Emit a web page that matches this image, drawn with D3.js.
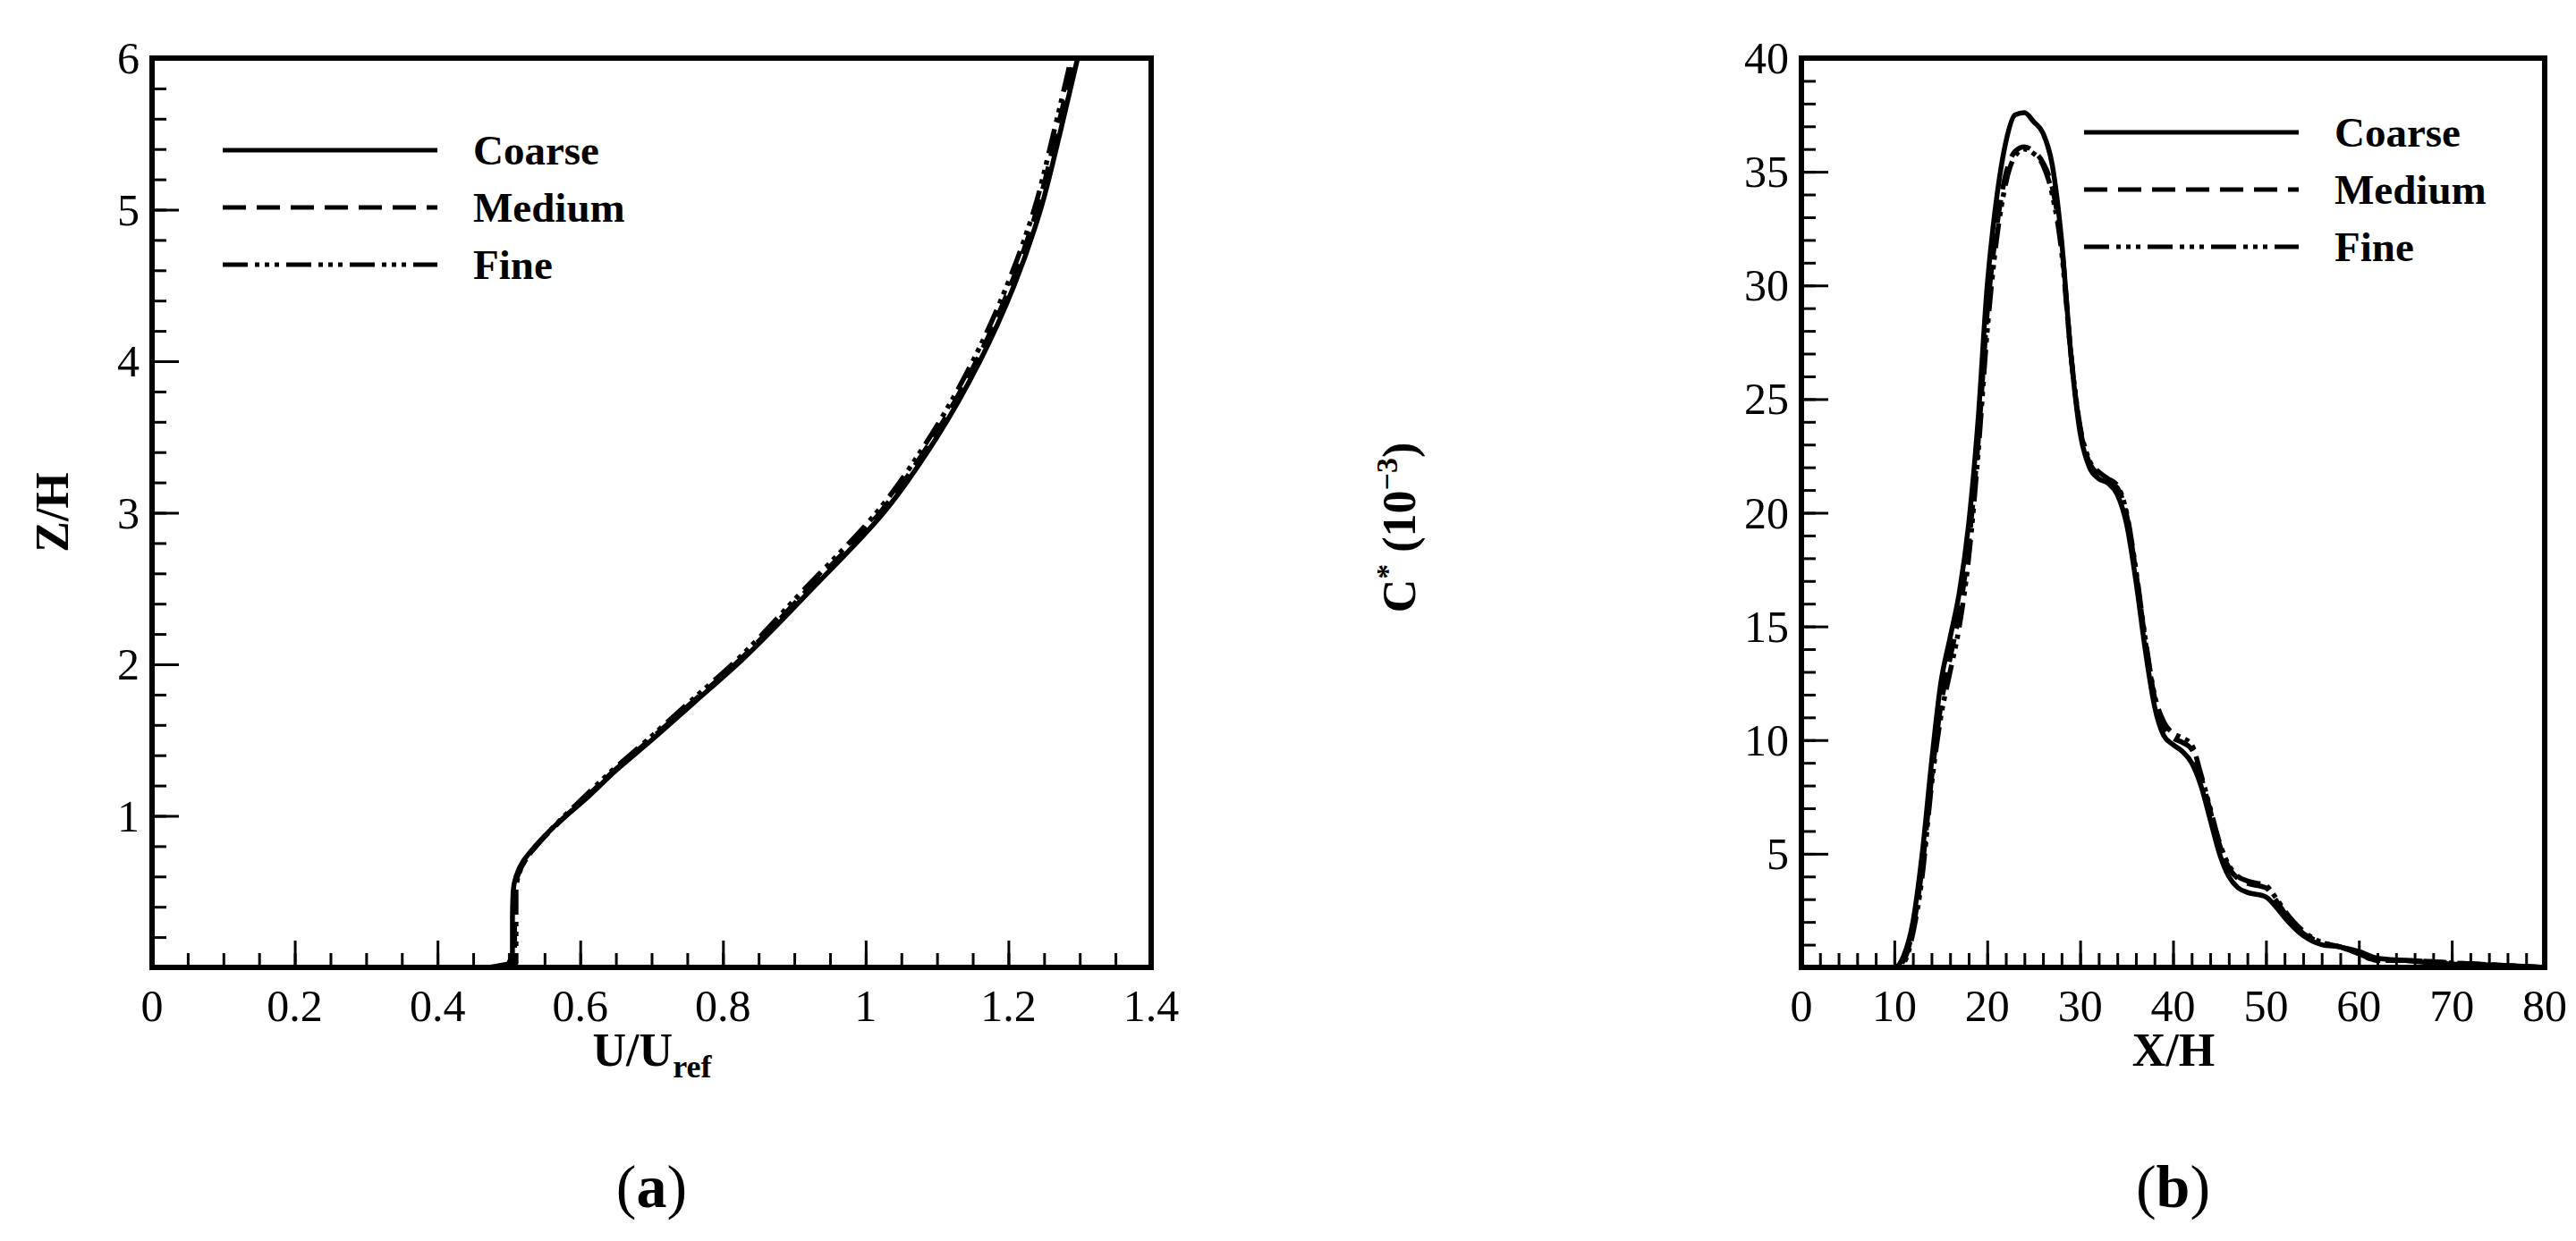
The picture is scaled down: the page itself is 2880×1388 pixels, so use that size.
<!DOCTYPE html>
<html>
<head>
<meta charset="utf-8">
<script src="https://cdn.jsdelivr.net/npm/d3@7"></script>
<style>
body { margin: 0; background: #fff; }
text { font-family: "Liberation Serif", "DejaVu Serif", serif; fill: #000; }
</style>
</head>
<body>
<svg width="2880" height="1388"></svg>
<script>
// panel (a): velocity profile U/Uref vs Z/H
var a_z = [0, 0.03, 0.1, 0.3, 0.5, 0.6, 0.7, 0.8, 0.9, 1.0, 1.1, 1.3, 1.5, 1.75, 2.0, 2.5, 3.0, 3.5, 4.0, 4.5, 5.0, 5.5, 6.0];
var a_coarse = [0.47, 0.5, 0.505, 0.505, 0.506, 0.51, 0.52, 0.537, 0.557, 0.58, 0.605, 0.65, 0.7, 0.76, 0.82, 0.925, 1.025, 1.1, 1.16, 1.208, 1.245, 1.272, 1.297];
var a_medium = [0.48, 0.505, 0.508, 0.508, 0.508, 0.512, 0.522, 0.538, 0.558, 0.58, 0.603, 0.648, 0.697, 0.757, 0.817, 0.92, 1.02, 1.095, 1.155, 1.203, 1.24, 1.267, 1.292];
var a_fine = [0.49, 0.51, 0.51, 0.51, 0.51, 0.513, 0.522, 0.538, 0.557, 0.578, 0.6, 0.645, 0.694, 0.753, 0.813, 0.915, 1.015, 1.09, 1.15, 1.198, 1.236, 1.263, 1.288];

// panel (b): C* vs X/H
var b_x = [0, 10, 11, 12, 13, 14, 15, 16, 17, 18, 19, 20, 21, 22, 23, 24, 25, 26, 27, 28, 29, 30, 31, 32, 33, 34, 35, 36, 37, 38, 39, 40, 41, 42, 43, 44, 45, 46, 47, 48, 50, 51, 52, 54, 56, 58, 60, 62, 65, 70, 75, 80];
var b_coarse = [0, 0, 0.5, 2, 5, 9, 12.5, 14.5, 16.5, 19.5, 24, 30, 33.8, 36.3, 37.5, 37.6, 37.2, 36.7, 35.3, 32, 27, 23.5, 22, 21.5, 21.3, 20.8, 19.5, 17, 14, 11.5, 10.2, 9.8, 9.5, 9, 8, 6.5, 5, 4, 3.5, 3.3, 3.1, 2.7, 2.2, 1.4, 1.0, 0.9, 0.7, 0.4, 0.3, 0.15, 0.1, 0];
var b_medium = [0, 0, 0.3, 1.7, 4.4, 8.3, 11.5, 13.6, 15.6, 18.6, 23, 28.8, 32.5, 34.9, 35.9, 36.1, 35.9, 35.4, 34.3, 31.8, 27, 23.7, 22.2, 21.7, 21.4, 21.1, 19.9, 17.4, 14.4, 11.9, 10.6, 10.1, 9.9, 9.6, 8.4, 6.9, 5.4, 4.4, 3.9, 3.7, 3.5, 3.0, 2.4, 1.5, 1.1, 0.9, 0.6, 0.3, 0.3, 0.2, 0.1, 0];
var b_fine = [0, 0, 0.2, 1.5, 4, 8, 11, 13, 15, 18, 22.5, 28, 32, 34.5, 35.7, 36, 35.8, 35.3, 34, 31.5, 27, 23.8, 22.3, 21.8, 21.5, 21.2, 20, 17.5, 14.5, 12, 10.8, 10.3, 10.1, 9.8, 8.5, 7, 5.5, 4.5, 4, 3.8, 3.6, 3.1, 2.5, 1.6, 1.1, 0.9, 0.6, 0.3, 0.3, 0.2, 0.1, 0];

var series_names = ["Coarse", "Medium", "Fine"];
var dashes = [null, "26,12", "28,8,5,6,5,6,5,8"];

var svg = d3.select("svg");

function panel(o) {
	var x = d3.scaleLinear().domain(o.xdom).range([o.left, o.right]);
	var y = d3.scaleLinear().domain(o.ydom).range([o.bottom, o.top]);
	var g = svg.append("g");

	// minor + major ticks, inward
	var xa = d3.axisTop(x).tickValues(d3.range(o.xdom[0], o.xdom[1] + 1e-9, o.xminor)).tickSize(16).tickFormat("");
	g.append("g").attr("transform", "translate(0," + o.bottom + ")").call(xa);
	var xb = d3.axisTop(x).tickValues(d3.range(o.xdom[0], o.xdom[1] + 1e-9, o.xmajor)).tickSize(30).tickFormat("");
	g.append("g").attr("transform", "translate(0," + o.bottom + ")").call(xb);
	var ya = d3.axisRight(y).tickValues(d3.range(o.ydom[0], o.ydom[1] + 1e-9, o.yminor)).tickSize(16).tickFormat("");
	g.append("g").attr("transform", "translate(" + o.left + ",0)").call(ya);
	var yb = d3.axisRight(y).tickValues(d3.range(o.ydom[0], o.ydom[1] + 1e-9, o.ymajor)).tickSize(30).tickFormat("");
	g.append("g").attr("transform", "translate(" + o.left + ",0)").call(yb);
	g.selectAll(".domain").remove();
	g.selectAll(".tick line").attr("stroke", "#000").attr("stroke-width", 3);

	// tick labels
	g.selectAll(".xl").data(o.xlabels).enter().append("text")
	  .attr("x", function(d) { return x(+d); }).attr("y", o.bottom + 60)
	  .attr("text-anchor", "middle").attr("font-size", 50)
	  .text(function(d) { return d; });
	g.selectAll(".yl").data(o.ylabels).enter().append("text")
	  .attr("x", o.left - 14).attr("y", function(d) { return y(d) + 17; })
	  .attr("text-anchor", "end").attr("font-size", 50)
	  .text(function(d) { return d; });

	// curves
	var line = d3.line().curve(o.swap ? d3.curveMonotoneY : d3.curveMonotoneX);
	o.series.forEach(function(s, i) {
		var pts = o.xs.map(function(v, k) {
			return o.swap ? [x(s[k]), y(v)] : [x(v), y(s[k])];
		});
		g.append("path").attr("d", line(pts)).attr("fill", "none")
		  .attr("stroke", "#000").attr("stroke-width", 5.5)
		  .attr("stroke-dasharray", dashes[i]);
	});

	// frame
	g.append("rect").attr("x", o.left).attr("y", o.top)
	  .attr("width", o.right - o.left).attr("height", o.bottom - o.top)
	  .attr("fill", "none").attr("stroke", "#000").attr("stroke-width", 6);

	// legend
	series_names.forEach(function(n, i) {
		var ly = o.legY + i * 64;
		g.append("line").attr("x1", o.legX).attr("x2", o.legX + 240)
		  .attr("y1", ly).attr("y2", ly).attr("stroke", "#000").attr("stroke-width", 5)
		  .attr("stroke-dasharray", dashes[i]);
		g.append("text").attr("x", o.legX + 280).attr("y", ly + 16)
		  .attr("font-size", 47).attr("font-weight", "bold").text(n);
	});

	// panel letter
	var t = g.append("text").attr("x", (o.left + o.right) / 2).attr("y", 1350)
	  .attr("text-anchor", "middle").attr("font-size", 68);
	t.append("tspan").text("(");
	t.append("tspan").attr("font-weight", "bold").text(o.letter);
	t.append("tspan").text(")");
	return g;
}

panel({
	left: 170, right: 1287, top: 65, bottom: 1082,
	xdom: [0, 1.4], ydom: [0, 6], xmajor: 0.2, xminor: 0.05, ymajor: 1, yminor: 0.2,
	xlabels: ["0", "0.2", "0.4", "0.6", "0.8", "1", "1.2", "1.4"],
	ylabels: [1, 2, 3, 4, 5, 6],
	xs: a_z, series: [a_coarse, a_medium, a_fine], swap: true,
	legX: 249, legY: 168, letter: "a"
});

var xt = svg.append("text").attr("x", 729).attr("y", 1192).attr("text-anchor", "middle")
  .attr("font-size", 52).attr("font-weight", "bold");
xt.append("tspan").text("U/U");
xt.append("tspan").attr("font-size", 36).attr("dy", 13).text("ref");
svg.append("text").attr("transform", "translate(76,573) rotate(-90)").attr("text-anchor", "middle")
  .attr("font-size", 52).attr("font-weight", "bold").text("Z/H");

panel({
	left: 2014, right: 2845, top: 65, bottom: 1082,
	xdom: [0, 80], ydom: [0, 40], xmajor: 10, xminor: 2, ymajor: 5, yminor: 1,
	xlabels: [0, 10, 20, 30, 40, 50, 60, 70, 80],
	ylabels: [5, 10, 15, 20, 25, 30, 35, 40],
	xs: b_x, series: [b_coarse, b_medium, b_fine], swap: false,
	legX: 2330, legY: 148, letter: "b"
});

svg.append("text").attr("x", 2430).attr("y", 1192).attr("text-anchor", "middle")
  .attr("font-size", 52).attr("font-weight", "bold").text("X/H");
var yt = svg.append("text").attr("transform", "translate(1582,590) rotate(-90)").attr("text-anchor", "middle")
  .attr("font-size", 52).attr("font-weight", "bold");
yt.append("tspan").text("C");
yt.append("tspan").attr("font-size", 34).attr("dy", -20).text("*");
yt.append("tspan").attr("dy", 20).text(" (10");
yt.append("tspan").attr("font-size", 34).attr("dy", -20).text("−3");
yt.append("tspan").attr("dy", 20).text(")");
</script>
</body>
</html>
